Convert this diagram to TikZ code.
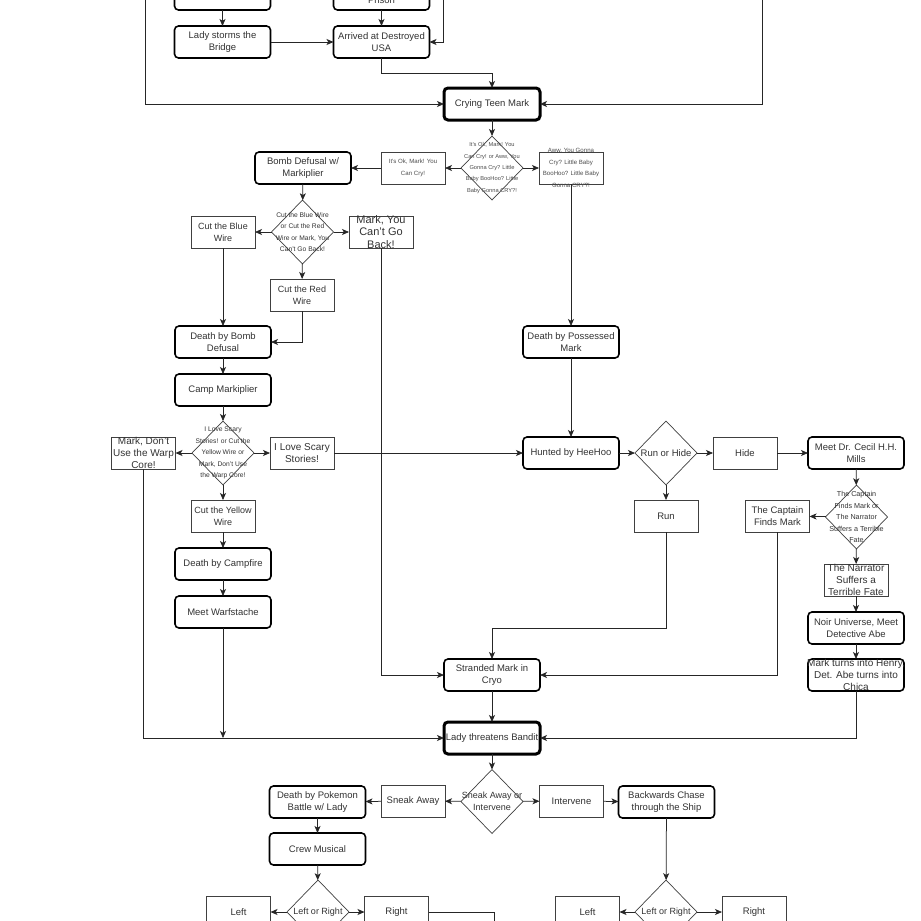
\documentclass[tikz,border=0pt]{standalone}
\usepackage{fontspec}
\setmainfont{Liberation Sans}
\usetikzlibrary{shapes.geometric,arrows.meta}
\tikzset{
  base/.style={inner sep=0pt, outer sep=0pt},
  rb/.style={base, draw=black, rounded corners=4pt, line width=1.6pt, minimum width=96, minimum height=32},
  tb/.style={rb, line width=3pt},
  pb/.style={base, draw=black!75, line width=0.7pt, minimum width=64, minimum height=32},
  dia/.style={base, diamond, draw=black!75, line width=0.7pt, minimum width=62, minimum height=64},
  tx/.style={inner sep=0pt, align=center, text=black!80, font=\fontsize{9.5}{11.8}\selectfont},
  tsm/.style={tx, font=\fontsize{9}{11.8}\selectfont},
  tbig/.style={tx, font=\fontsize{10}{11.8}\selectfont},
  thuge/.style={tx, font=\fontsize{11}{12.2}\selectfont},
  tone/.style={tx, text=black!70, font=\fontsize{5.7}{11.4}\selectfont},
  tok/.style={tx, text=black!70, font=\fontsize{6.1}{11.6}\selectfont},
  ttwo/.style={tx, font=\fontsize{6.7}{11.4}\selectfont},
  tfour/.style={tx, font=\fontsize{7.2}{11.5}\selectfont},
  arr/.style={draw=black!85, line width=0.75pt, -{Stealth[length=7pt,width=6pt,inset=1.8pt]}},
  ln/.style={draw=black!85, line width=0.75pt},
}
\newcommand\mynode[5]{\node[#1,label={[#4]center:{#5}}] (#2) at (#3) {};}
\begin{document}
\begin{tikzpicture}[x=1pt,y=-1pt]
\useasboundingbox (0,0) rectangle (921,921);
\fill[white] (0,0) rectangle (921,921);

% top
\mynode{rb}{tla}{222.5,-6}{tx}{}
\mynode{rb}{tlb}{381.5,-6}{tx}{\phantom{P}\\Prison}
\mynode{rb}{ls}{222.5,42}{tx}{Lady storms the\\Bridge}
\mynode{rb}{ar}{381.5,42}{tx}{Arrived at Destroyed\\USA}
\mynode{tb}{cry}{492,104}{tx}{Crying Teen Mark}
\coordinate (cA) at (443,-30);
\coordinate (cL) at (145,-30);
\coordinate (cR) at (762,-30);

% first decision
\mynode{dia}{d1}{492,168}{tone}{It's Ok, Mark! You\\Can Cry! or Aww, You\\Gonna Cry? Little\\Baby BooHoo? Little\\Baby Gonna CRY?!}
\mynode{pb}{ok}{413,168}{tok}{It's Ok, Mark! You\\Can Cry!}
\mynode{pb}{aww}{571,168}{tok}{Aww, You Gonna\\Cry? Little Baby\\BooHoo? Little Baby\\Gonna CRY?!}
\mynode{rb}{bomb}{303,168}{tx}{Bomb Defusal w/\\Markiplier}

% bomb branch
\mynode{dia}{d2}{302.5,232}{ttwo}{Cut the Blue Wire\\or Cut the Red\\Wire or Mark, You\\Can't Go Back!}
\mynode{pb}{blue}{223,232}{tsm}{Cut the Blue\\Wire}
\mynode{pb}{mcgb}{381,232}{thuge}{Mark, You\\Can't Go\\Back!}
\mynode{pb}{red}{302,295}{tsm}{Cut the Red\\Wire}
\mynode{rb}{dbd}{223,342}{tx}{Death by Bomb\\Defusal}
\mynode{rb}{camp}{223,390}{tx}{Camp Markiplier}
\mynode{dia}{d3}{223,453}{ttwo}{I Love Scary\\Stories! or Cut the\\Yellow Wire or\\Mark, Don't Use\\the Warp Core!}
\mynode{pb}{mdu}{143.5,453}{tbig}{Mark, Don't\\Use the Warp\\Core!}
\mynode{pb}{ils}{302,453}{tbig}{I Love Scary\\Stories!}
\mynode{pb}{yel}{223,516}{tsm}{Cut the Yellow\\Wire}
\mynode{rb}{cf}{223,564}{tx}{Death by Campfire}
\mynode{rb}{warf}{223,612}{tx}{Meet Warfstache}

% right branch
\mynode{rb}{pos}{571,342}{tx}{Death by Possessed\\Mark}
\mynode{rb}{hunt}{571,453}{tx}{Hunted by HeeHoo}
\mynode{dia}{rh}{666,453}{tx}{Run or Hide}
\mynode{pb}{hide}{745,453}{tx}{Hide}
\mynode{rb}{mdr}{856,453}{tx}{Meet Dr. Cecil H.H.\\Mills}
\mynode{pb}{run}{666,516}{tx}{Run}
\mynode{dia}{d4}{856.5,517}{tfour}{The Captain\\Finds Mark or\\The Narrator\\Suffers a Terrible\\Fate}
\mynode{pb}{cap}{777.5,516}{tx}{The Captain\\Finds Mark}
\mynode{pb}{nar}{856,580}{tbig}{The Narrator\\Suffers a\\Terrible Fate}
\mynode{rb}{noir}{856,628}{tx}{Noir Universe, Meet\\Detective Abe}
\mynode{rb}{hen}{856,675}{tbig}{Mark turns into Henry,\\Det. Abe turns into\\Chica}

% center bottom
\mynode{rb}{str}{492,675}{tx}{Stranded Mark in\\Cryo}
\mynode{tb}{lt}{492,738}{tx}{Lady threatens Bandit}
\mynode{dia}{d5}{492,801.5}{tsm}{Sneak Away or\\Intervene}
\mynode{pb}{sa}{413,801}{tx}{Sneak Away}
\mynode{pb}{int}{571.5,801}{tx}{Intervene}
\mynode{rb}{dpb}{317.5,802}{tx}{Death by Pokemon\\Battle w/ Lady}
\mynode{rb}{bc}{666.5,802}{tx}{Backwards Chase\\through the Ship}
\mynode{rb}{crew}{317.5,849}{tx}{Crew Musical}
\mynode{dia}{d6}{318,912}{tsm}{Left or Right}
\mynode{pb}{la}{238.5,912}{tx}{Left}
\mynode{pb}{ra}{396.5,912}{tx}{Right}
\mynode{dia}{d7}{666,912}{tsm}{Left or Right}
\mynode{pb}{lb}{587.5,912}{tx}{Left}
\mynode{pb}{rbx}{754,912}{tx}{Right}
\coordinate (cB) at (494,945);

% connectors
\draw[arr] (tla) -- (ls);
\draw[arr] (tlb) -- (ar);
\draw[arr] (ls) -- (ar);
\draw[arr] (cA) |- (ar.east);
\draw[arr] (ar.south) -- ++(0,15) -| (cry.north);
\draw[arr] (cL) |- (cry.west);
\draw[arr] (cR) |- (cry.east);
\draw[arr] (cry) -- (d1);
\draw[arr] (d1) -- (ok);
\draw[arr] (d1) -- (aww);
\draw[arr] (ok) -- (bomb);
\draw[arr] (aww) -- (pos);
\draw[arr] (bomb) -- (d2);
\draw[arr] (d2) -- (blue);
\draw[arr] (d2) -- (mcgb);
\draw[arr] (d2) -- (red);
\draw[arr] (blue) -- (dbd);
\draw[arr] (red.south) |- (dbd.east);
\draw[arr] (mcgb.south) |- (str.west);
\draw[arr] (dbd) -- (camp);
\draw[arr] (camp) -- (d3);
\draw[arr] (d3) -- (mdu);
\draw[arr] (d3) -- (ils);
\draw[arr] (d3) -- (yel);
\draw[arr] (ils) -- (hunt);
\draw[arr] (yel) -- (cf);
\draw[arr] (cf) -- (warf);
\draw[arr] (warf.south) -- (warf.south |- lt.west);
\draw[arr] (mdu.south) |- (lt.west);
\draw[arr] (pos) -- (hunt);
\draw[arr] (hunt) -- (rh);
\draw[arr] (rh) -- (hide);
\draw[arr] (hide) -- (mdr);
\draw[arr] (rh) -- (run);
\draw[arr] (run.south) -- ++(0,96) -| (str.north);
\draw[arr] (mdr) -- (d4);
\draw[arr] (d4) -- (cap);
\draw[arr] (d4) -- (nar);
\draw[arr] (nar) -- (noir);
\draw[arr] (noir) -- (hen);
\draw[arr] (cap.south) |- (str.east);
\draw[arr] (hen.south) |- (lt.east);
\draw[arr] (str) -- (lt);
\draw[arr] (lt) -- (d5);
\draw[arr] (d5) -- (sa);
\draw[arr] (d5) -- (int);
\draw[arr] (sa) -- (dpb);
\draw[arr] (int) -- (bc);
\draw[arr] (dpb) -- (crew);
\draw[arr] (crew) -- (d6);
\draw[arr] (d6) -- (la);
\draw[arr] (d6) -- (ra);
\draw[ln] (ra.east) -| (cB);
\draw[arr] (bc) -- (d7);
\draw[arr] (d7) -- (lb);
\draw[arr] (d7) -- (rbx);
\end{tikzpicture}
\end{document}
